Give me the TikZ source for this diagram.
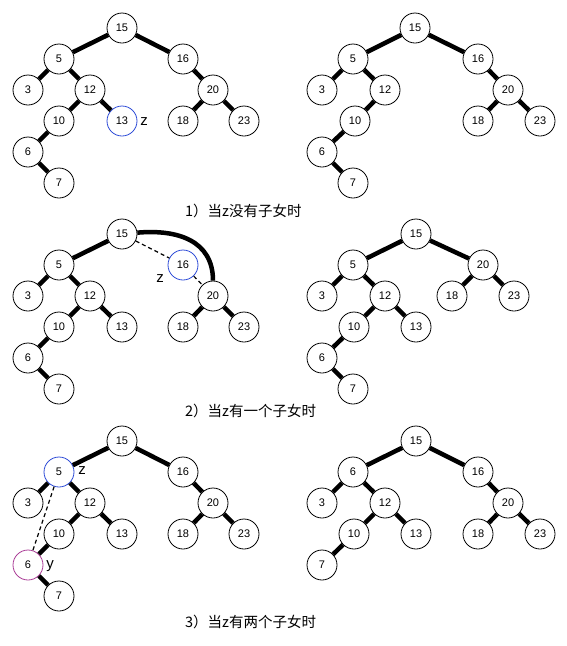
\documentclass[tikz,border=0pt]{standalone}
\usepackage{fontspec}
\setmainfont{Liberation Sans}
\newfontfamily\cjk{Noto Sans CJK SC}
\definecolor{zblue}{RGB}{45,75,215}
\definecolor{ypink}{RGB}{170,60,150}
\tikzset{
  vertex/.style={circle, draw, fill=white, line width=0.8pt, minimum size=30pt, inner sep=0pt, font=\fontsize{11}{13}\selectfont},
  edge/.style={line width=4.5pt},
  dashedge/.style={line width=1.2pt, dash pattern=on 4pt off 3pt},
  tag/.style={font=\fontsize{15}{17}\selectfont, inner sep=0pt},
  caption/.style={font=\cjk\fontsize{14.5}{17}\selectfont, anchor=west, inner sep=0pt}
}
\begin{document}
\begin{tikzpicture}[x=1pt,y=-1pt]
    \useasboundingbox (0,0) rectangle (566,646);
    %% Case 1: z has no children
    \node[vertex] (a15) at (122,28) {15};
    \node[vertex] (a5) at (59,59) {5};
    \node[vertex] (a16) at (183,59) {16};
    \node[vertex] (a3) at (28,90) {3};
    \node[vertex] (a12) at (90,90) {12};
    \node[vertex] (a20) at (213,90) {20};
    \node[vertex] (a10) at (59,121) {10};
    \node[vertex, draw=zblue] (a13) at (122,121) {13};
    \node[vertex] (a18) at (183,121) {18};
    \node[vertex] (a23) at (244,121) {23};
    \node[vertex] (a6) at (28,152) {6};
    \node[vertex] (a7) at (59,183) {7};
    \node[tag] (az) at (144,122) {z};
    \draw[edge] (a15) -- (a5) (a15) -- (a16) (a5) -- (a3) (a5) -- (a12)
        (a12) -- (a10) (a12) -- (a13) (a16) -- (a20) (a20) -- (a18)
        (a20) -- (a23) (a10) -- (a6) (a6) -- (a7);
    %% after deletion
    \node[vertex] (ra15) at (415,28) {15};
    \node[vertex] (ra5) at (353,59) {5};
    \node[vertex] (ra16) at (478,59) {16};
    \node[vertex] (ra3) at (322,90) {3};
    \node[vertex] (ra12) at (385,90) {12};
    \node[vertex] (ra20) at (508,90) {20};
    \node[vertex] (ra10) at (355,121) {10};
    \node[vertex] (ra18) at (478,121) {18};
    \node[vertex] (ra23) at (540,121) {23};
    \node[vertex] (ra6) at (322,152) {6};
    \node[vertex] (ra7) at (353,183) {7};
    \draw[edge] (ra15) -- (ra5) (ra15) -- (ra16) (ra5) -- (ra3) (ra5) -- (ra12)
        (ra12) -- (ra10) (ra16) -- (ra20) (ra20) -- (ra18) (ra20) -- (ra23)
        (ra10) -- (ra6) (ra6) -- (ra7);
    \node[caption] (cap1) at (185,211) {1）当z没有子女时};
    %% Case 2: z has one child
    \node[vertex] (b15) at (122,234) {15};
    \node[vertex] (b5) at (59,265) {5};
    \node[vertex, draw=zblue] (b16) at (183,265) {16};
    \node[vertex] (b3) at (28,296) {3};
    \node[vertex] (b12) at (90,296) {12};
    \node[vertex] (b20) at (213,296) {20};
    \node[vertex] (b10) at (59,327) {10};
    \node[vertex] (b13) at (122,327) {13};
    \node[vertex] (b18) at (183,327) {18};
    \node[vertex] (b23) at (244,327) {23};
    \node[vertex] (b6) at (28,358) {6};
    \node[vertex] (b7) at (59,389) {7};
    \node[tag] (bz) at (160,279) {z};
    \draw[edge] (b15) -- (b5) (b5) -- (b3) (b5) -- (b12) (b12) -- (b10)
        (b12) -- (b13) (b20) -- (b18) (b20) -- (b23) (b10) -- (b6) (b6) -- (b7);
    \draw[edge] (b15) to[out=5,in=90,looseness=1.15] (b20);
    \draw[dashedge] (b15) -- (b16) (b16) -- (b20);
    %% after deletion
    \node[vertex] (rb15) at (416,234) {15};
    \node[vertex] (rb5) at (353,265) {5};
    \node[vertex] (rb20) at (483,265) {20};
    \node[vertex] (rb3) at (322,296) {3};
    \node[vertex] (rb12) at (385,296) {12};
    \node[vertex] (rb18) at (452,296) {18};
    \node[vertex] (rb23) at (514,296) {23};
    \node[vertex] (rb10) at (354,327) {10};
    \node[vertex] (rb13) at (416,327) {13};
    \node[vertex] (rb6) at (322,358) {6};
    \node[vertex] (rb7) at (353,389) {7};
    \draw[edge] (rb15) -- (rb5) (rb15) -- (rb20) (rb5) -- (rb3) (rb5) -- (rb12)
        (rb12) -- (rb10) (rb12) -- (rb13) (rb20) -- (rb18) (rb20) -- (rb23)
        (rb10) -- (rb6) (rb6) -- (rb7);
    \node[caption] (cap2) at (185,411) {2）当z有一个子女时};
    %% Case 3: z has two children
    \node[vertex] (c15) at (122,441) {15};
    \node[vertex, draw=zblue] (c5) at (59,472) {5};
    \node[vertex] (c16) at (183,472) {16};
    \node[vertex] (c3) at (28,503) {3};
    \node[vertex] (c12) at (90,503) {12};
    \node[vertex] (c20) at (213,503) {20};
    \node[vertex] (c10) at (59,534) {10};
    \node[vertex] (c13) at (122,534) {13};
    \node[vertex] (c18) at (183,534) {18};
    \node[vertex] (c23) at (244,534) {23};
    \node[vertex, draw=ypink] (c6) at (28,565) {6};
    \node[vertex] (c7) at (59,596) {7};
    \node[tag] (cz) at (82,471) {z};
    \node[tag] (cy) at (50,566) {y};
    \draw[edge] (c15) -- (c5) (c15) -- (c16) (c5) -- (c3) (c5) -- (c12)
        (c12) -- (c10) (c12) -- (c13) (c16) -- (c20) (c20) -- (c18)
        (c20) -- (c23) (c10) -- (c6) (c6) -- (c7);
    \draw[dashedge] (c5) -- (c6);
    %% after deletion
    \node[vertex] (rc15) at (416,441) {15};
    \node[vertex] (rc6) at (353,472) {6};
    \node[vertex] (rc16) at (478,472) {16};
    \node[vertex] (rc3) at (322,503) {3};
    \node[vertex] (rc12) at (385,503) {12};
    \node[vertex] (rc20) at (508,503) {20};
    \node[vertex] (rc10) at (354,534) {10};
    \node[vertex] (rc13) at (416,534) {13};
    \node[vertex] (rc18) at (478,534) {18};
    \node[vertex] (rc23) at (540,534) {23};
    \node[vertex] (rc7) at (322,565) {7};
    \draw[edge] (rc15) -- (rc6) (rc15) -- (rc16) (rc6) -- (rc3) (rc6) -- (rc12)
        (rc12) -- (rc10) (rc12) -- (rc13) (rc16) -- (rc20) (rc20) -- (rc18)
        (rc20) -- (rc23) (rc10) -- (rc7);
    \node[caption] (cap3) at (185,622) {3）当z有两个子女时};
\end{tikzpicture}
\end{document}
